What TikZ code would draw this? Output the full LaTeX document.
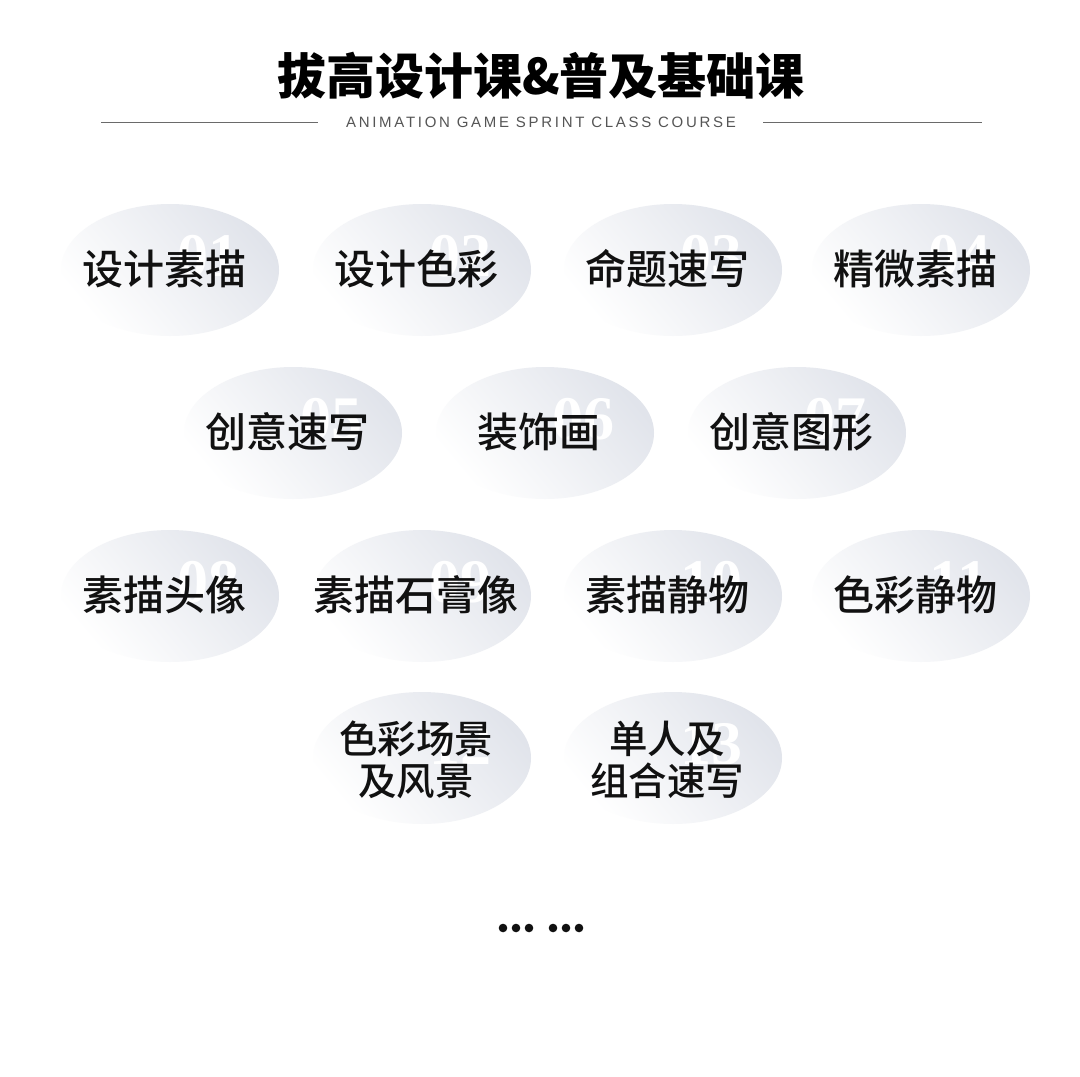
\documentclass[tikz,border=0pt]{standalone}
\usepackage{fontspec}
\setmainfont{Liberation Sans}
\newfontfamily\cjkb{Noto Sans CJK SC Black}
\newfontfamily\cjkm{Noto Sans CJK SC Medium}
\newfontfamily\subfont{Liberation Sans}[LetterSpace=18]
\newfontfamily\numfont{Liberation Serif}
\definecolor{ellgray}{HTML}{E1E4EB}
\definecolor{rulegray}{HTML}{6A6A6A}
\definecolor{txt}{HTML}{111111}
\tikzset{
  ellbox/.style={ellipse, inner sep=0pt, minimum width=218pt, minimum height=132pt,
    top color=ellgray, bottom color=white, shading angle=-50, draw=none},
  numlbl/.style={anchor=base, inner sep=0pt, text=white, font=\numfont\bfseries\fontsize{62}{62}\selectfont},
  lbl/.style={inner sep=0pt, text=txt, align=center, font=\cjkm\fontsize{41}{40}\selectfont},
  lbltwo/.style={inner sep=0pt, text=txt, align=center, font=\cjkm\fontsize{38.5}{42}\selectfont, yshift=-3pt},
  titlelbl/.style={inner sep=0pt, text=black, font=\cjkb\fontsize{49}{49}\selectfont},
  sublbl/.style={inner sep=0pt, text=rulegray!80!black, font=\subfont\fontsize{15}{15}\selectfont},
  rule/.style={draw=rulegray, line width=0.9pt},
  dot/.style={fill=txt}
}
\newcommand\course[5]{%
  \node[ellbox] (e#3) at (#1,#2) {};
  \node[numlbl] (n#3) at ({#1+38},{#2+6}) {#3};
  \node[#4] (t#3) at ({#1-6},{#2-1}) {#5};
}
\usetikzlibrary{shapes.geometric}
\begin{document}
\begin{tikzpicture}[x=1pt,y=-1pt]
\useasboundingbox (0,0) rectangle (1080,1077);
\fill[white] (0,0) rectangle (1080,1077);
\node[titlelbl] (title) at (541,76) {拔高设计课\&普及基础课};
\node[sublbl] (sub) at (541,122) {ANIMATION GAME SPRINT CLASS COURSE};
\coordinate (la) at (101,122); \coordinate (lb) at (318,122);
\coordinate (ra) at (763,122); \coordinate (rb) at (982,122);
\draw[rule] (la) -- (lb);
\draw[rule] (ra) -- (rb);
% row 1
\course{170}{270}{01}{lbl}{设计素描}
\course{422}{270}{02}{lbl}{设计色彩}
\course{673}{270}{03}{lbl}{命题速写}
\course{921}{270}{04}{lbl}{精微素描}
% row 2
\course{293}{433}{05}{lbl}{创意速写}
\course{545}{433}{06}{lbl}{装饰画}
\course{797}{433}{07}{lbl}{创意图形}
% row 3
\course{170}{596}{08}{lbl}{素描头像}
\course{422}{596}{09}{lbl}{素描石膏像}
\course{673}{596}{10}{lbl}{素描静物}
\course{921}{596}{11}{lbl}{色彩静物}
% row 4
\course{422}{758}{12}{lbltwo}{色彩场景\\及风景}
\course{673}{758}{13}{lbltwo}{单人及\\组合速写}
% dots
\foreach \x in {503,516,529,553,566,579} \fill[dot] (\x,928) circle (4.3);
\end{tikzpicture}
\end{document}
